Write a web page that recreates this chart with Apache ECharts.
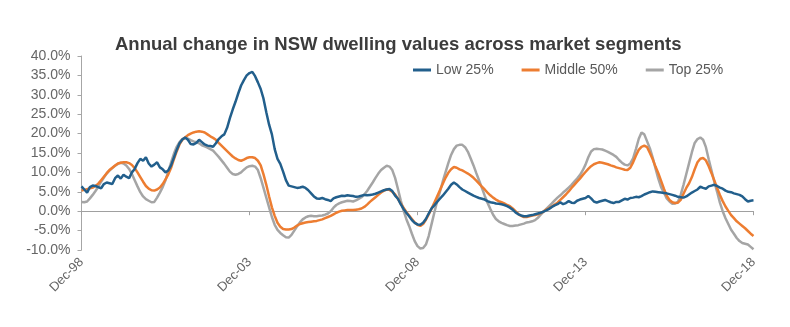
<!DOCTYPE html>
<html>
<head>
<meta charset="utf-8">
<script src="https://cdn.jsdelivr.net/npm/echarts@6/dist/echarts.min.js"></script>
<style>
html,body{margin:0;padding:0;background:#fff;}
#chart{width:790px;height:327px;}
</style>
</head>
<body>
<div id="chart"></div>
<script>
// Monthly categories Dec-98 .. Dec-18
var monthNames = ['Jan','Feb','Mar','Apr','May','Jun','Jul','Aug','Sep','Oct','Nov','Dec'];
var categories = [];
for (var i = 0; i <= 240; i++) {
  var mi = (11 + i) % 12;
  var yr = 1998 + Math.floor((11 + i) / 12);
  categories.push(monthNames[mi] + '-' + String(yr).slice(2));
}
var seriesNames = ['Low 25%', 'Middle 50%', 'Top 25%'];
var yTicks = [-10, -5, 0, 5, 10, 15, 20, 25, 30, 35, 40];

var low = [
6.4,5.6,4.8,6.2,6.6,6.5,6.2,5.9,7.0,7.4,7.2,7.0,
8.5,9.2,8.4,9.4,8.9,8.5,10.0,10.9,12.4,13.5,13.0,13.9,
12.3,11.5,12.0,12.6,11.3,10.8,10.0,10.5,11.8,13.8,15.8,17.5,
18.5,19.0,18.4,17.3,17.2,17.6,18.4,17.8,17.2,16.9,16.8,16.6,
17.5,18.6,19.3,19.8,21.5,24.0,26.2,28.2,30.4,32.4,33.8,35.0,
35.6,35.9,34.8,33.2,31.5,29.0,25.5,22.3,19.8,16.0,13.5,12.2,
10.2,8.0,6.6,6.4,6.2,6.0,6.1,6.3,6.0,5.4,4.6,3.8,
3.3,3.2,3.4,3.1,2.9,2.6,3.3,3.6,3.8,4.0,3.9,4.1,
4.0,3.9,3.7,3.8,4.0,4.2,4.1,4.2,4.3,4.5,4.8,5.1,
5.4,5.6,5.7,5.2,4.0,3.2,1.8,0.6,-0.4,-1.3,-2.3,-3.0,
-3.4,-3.5,-3.0,-2.0,-0.6,0.7,1.5,2.4,3.2,4.0,4.9,5.8,
6.8,7.4,6.9,6.2,5.6,5.2,4.8,4.4,4.0,3.7,3.4,3.2,
3.0,2.6,2.3,2.2,2.0,1.9,1.8,1.6,1.3,0.9,0.4,-0.3,
-0.8,-1.1,-1.3,-1.3,-1.1,-1.0,-0.8,-0.6,-0.4,-0.1,0.2,0.6,
1.1,1.5,1.8,2.3,1.8,2.1,2.6,2.2,2.1,2.7,3.0,3.2,
3.4,3.9,3.3,2.5,2.2,2.5,2.7,2.9,2.6,2.3,2.1,2.4,
2.4,2.8,3.2,3.0,3.4,3.5,3.7,3.6,3.9,4.3,4.6,4.9,
5.1,5.0,4.9,4.8,4.7,4.6,4.4,4.2,4.0,3.7,3.6,3.5,
3.8,4.3,4.8,5.2,5.6,6.3,6.0,5.8,6.4,6.6,6.8,6.5,
6.1,5.8,5.3,5.0,4.9,4.6,4.4,4.2,3.8,3.1,2.5,2.7,
2.8
];

var middle = [
5.3,5.5,5.7,5.9,6.1,6.5,7.1,8.0,8.9,9.8,10.6,11.2,
11.8,12.3,12.5,12.6,12.6,12.4,11.9,11.1,10.0,8.8,7.6,6.5,
5.8,5.4,5.3,5.6,6.1,7.0,8.2,9.5,11.2,13.4,15.4,17.2,
18.4,19.0,19.6,20.0,20.3,20.5,20.6,20.5,20.3,19.8,19.3,18.9,
18.4,17.6,16.9,16.2,15.5,14.8,14.1,13.6,13.2,13.0,13.3,13.7,
13.9,13.9,13.7,13.0,11.8,9.5,6.8,3.8,1.0,-1.2,-3.0,-4.0,
-4.6,-4.7,-4.7,-4.6,-4.2,-3.7,-3.3,-3.1,-2.9,-2.8,-2.7,-2.6,
-2.5,-2.3,-2.1,-1.8,-1.5,-1.2,-0.8,-0.4,-0.1,0.1,0.2,0.3,
0.3,0.3,0.4,0.5,0.7,1.1,1.7,2.4,3.0,3.6,4.2,4.8,
5.3,5.6,5.5,5.0,4.3,3.2,2.0,0.9,-0.2,-1.1,-2.0,-2.9,
-3.5,-3.8,-3.3,-2.2,-0.8,0.6,2.2,3.8,5.4,7.0,8.6,9.9,
10.8,11.4,11.2,10.8,10.5,10.1,9.7,9.2,8.6,7.9,7.1,6.3,
5.6,4.8,4.1,3.5,3.0,2.6,2.3,2.0,1.6,1.3,0.7,0.0,
-0.7,-1.2,-1.5,-1.5,-1.3,-1.1,-1.0,-0.8,-0.5,-0.1,0.4,0.8,
1.2,1.7,2.2,2.9,3.6,4.3,5.1,6.0,6.8,7.6,8.4,9.3,
10.1,10.9,11.6,12.1,12.4,12.6,12.5,12.3,12.1,11.8,11.6,11.3,
11.1,10.9,10.7,10.6,11.2,12.6,14.3,15.8,16.6,16.9,16.5,15.0,
13.4,11.5,9.8,7.8,5.8,4.0,2.9,2.3,2.1,2.2,2.9,4.5,
6.0,7.2,8.8,10.8,12.6,13.5,13.7,13.1,11.6,9.8,7.9,6.0,
4.2,2.6,1.2,0.1,-1.0,-1.8,-2.6,-3.2,-3.8,-4.4,-5.1,-5.8,
-6.4
];

var top25 = [
2.4,2.3,2.5,3.3,4.2,5.2,6.3,7.6,8.7,9.7,10.5,11.1,
11.7,12.2,12.5,12.3,11.8,10.9,9.6,8.0,6.4,4.9,3.8,3.1,
2.7,2.3,2.4,3.5,4.8,6.2,8.0,10.2,12.6,14.8,16.6,17.8,
18.6,18.9,18.7,18.3,18.0,17.8,17.5,17.0,16.7,16.4,16.0,15.6,
14.8,14.0,13.1,12.2,11.2,10.2,9.6,9.4,9.6,10.0,10.7,11.3,
11.6,11.7,11.5,10.6,8.5,6.0,3.5,1.0,-1.5,-3.5,-4.8,-5.6,
-6.2,-6.7,-6.8,-6.1,-5.0,-3.9,-2.9,-2.1,-1.6,-1.3,-1.2,-1.3,
-1.3,-1.2,-1.1,-0.9,-0.6,0.0,0.9,1.6,2.0,2.3,2.5,2.7,
2.6,2.5,2.8,3.2,3.6,4.3,5.2,6.3,7.4,8.6,9.7,10.6,
11.2,11.7,11.5,10.6,8.6,5.8,2.8,0.2,-2.0,-3.8,-5.8,-7.7,
-9.0,-9.6,-9.5,-8.6,-6.4,-3.4,-0.4,2.5,5.0,7.6,10.0,12.4,
14.5,16.0,16.9,17.1,17.1,16.5,15.3,13.6,11.8,9.8,7.9,6.0,
4.0,2.2,0.6,-0.9,-2.0,-2.6,-3.0,-3.3,-3.6,-3.8,-3.8,-3.7,
-3.6,-3.4,-3.2,-2.9,-2.8,-2.6,-2.3,-1.7,-0.9,-0.1,0.6,1.3,
2.0,2.8,3.5,4.1,4.8,5.4,6.1,6.8,7.6,8.4,9.3,10.5,
12.0,13.9,15.4,16.0,16.1,16.0,15.9,15.6,15.3,14.9,14.5,14.0,
13.2,12.5,12.0,11.8,12.3,13.6,16.0,18.6,20.3,19.8,18.0,16.2,
13.8,11.0,8.4,6.2,4.8,3.3,2.5,1.9,2.0,2.4,4.2,6.8,
9.6,12.4,15.2,17.6,18.6,19.0,18.4,16.5,13.4,10.5,7.6,5.0,
2.2,0.0,-1.8,-3.3,-4.8,-5.8,-6.9,-7.7,-8.2,-8.4,-8.6,-9.2,
-9.8
];

var FONT = '"Liberation Sans", Arial, sans-serif';
var chart = echarts.init(document.getElementById('chart'), null, {renderer: 'canvas'});
chart.setOption({
  animation: false,
  backgroundColor: '#ffffff',
  title: {
    text: 'Annual change in NSW dwelling values across market segments',
    left: 110, top: 30,
    textStyle: {fontFamily: FONT, fontSize: 18.5, fontWeight: 'bold', color: '#3c3c3c'}
  },
  legend: {
    data: seriesNames,
    left: 408, top: 58,
    icon: 'rect', itemWidth: 18, itemHeight: 3, itemGap: 28,
    textStyle: {fontFamily: FONT, fontSize: 14, color: '#595959'}
  },
  grid: {left: 81.5, right: 36.5, top: 56, bottom: 77, containLabel: false},
  xAxis: [{
    type: 'category', data: categories, boundaryGap: false, position: 'bottom',
    axisLine: {show: true, onZero: true, lineStyle: {color: '#a0a0a0', width: 1}},
    axisTick: {show: true, interval: 59, length: 4, lineStyle: {color: '#a0a0a0'}},
    axisLabel: {show: false},
    splitLine: {show: false}
  }, {
    type: 'category', data: categories, boundaryGap: false, position: 'bottom',
    axisLine: {show: false, onZero: false},
    axisTick: {show: false},
    axisLabel: {show: true, interval: 59, rotate: 45, margin: 10,
      fontFamily: FONT, fontSize: 13, color: '#666666'},
    splitLine: {show: false}
  }],
  yAxis: {
    type: 'value', min: yTicks[0], max: yTicks[yTicks.length - 1], interval: 5,
    axisLine: {show: true, lineStyle: {color: '#a6a6a6'}},
    axisTick: {show: true, length: 4, lineStyle: {color: '#a6a6a6'}},
    axisLabel: {margin: 11, fontFamily: FONT, fontSize: 14, color: '#666666',
      formatter: function (v) { return v.toFixed(1) + '%'; }},
    splitLine: {show: false}
  },
  series: [
    {name: 'Top 25%', type: 'line', data: top25, showSymbol: false, symbol: 'none',
      lineStyle: {width: 2.5, color: '#a5a5a5'}, itemStyle: {color: '#a5a5a5'}, z: 2},
    {name: 'Middle 50%', type: 'line', data: middle, showSymbol: false, symbol: 'none',
      lineStyle: {width: 2.5, color: '#ed7d31'}, itemStyle: {color: '#ed7d31'}, z: 3},
    {name: 'Low 25%', type: 'line', data: low, showSymbol: false, symbol: 'none',
      lineStyle: {width: 2.5, color: '#225f8c'}, itemStyle: {color: '#225f8c'}, z: 4}
  ]
});
</script>
</body>
</html>
